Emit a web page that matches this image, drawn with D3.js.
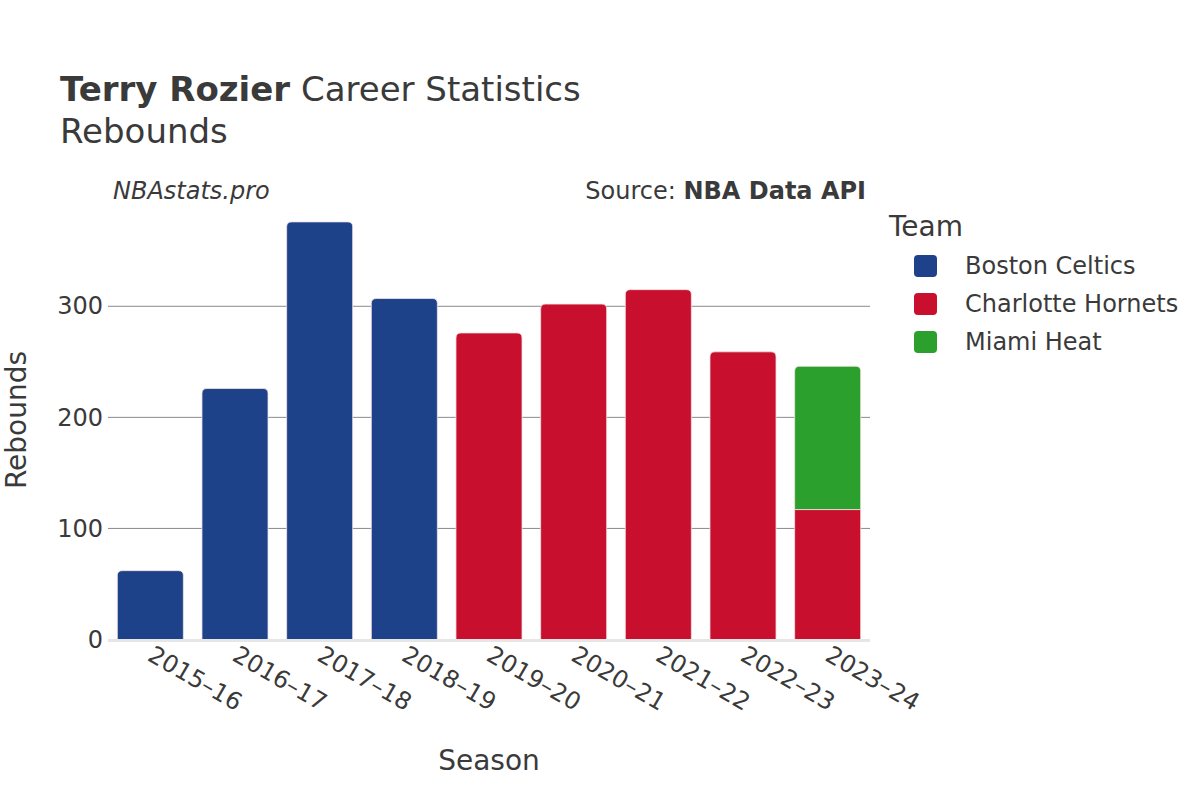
<!DOCTYPE html>
<html><head><meta charset="utf-8">
<script src="https://cdn.jsdelivr.net/npm/d3@7"></script>
<style>body{margin:0;background:#fff;} svg{display:block;font-family:"DejaVu Sans",sans-serif;}</style>
</head><body><svg id="c" width="1200" height="800"></svg>
<script>
const seasons = ["2015–16","2016–17","2017–18","2018–19","2019–20","2020–21","2021–22","2022–23","2023–24"];
const teams = ["Boston Celtics","Charlotte Hornets","Miami Heat"];
const teamColors = ["#1d428a","#c8102e","#2ca02c"];
const boston    = [62,226,376,307,0,0,0,0,0];
const charlotte = [0,0,0,0,276,302,315,259,117];
const miami     = [0,0,0,0,0,0,0,0,129];
const yTicks = [0,100,200,300];

const svg = d3.select("#c");
const m = {l:108, r:870, t:200, b:639.5};
const x = d3.scaleBand().domain(seasons).range([m.l, m.r]).paddingInner(0.22).paddingOuter(0.11);
const y = d3.scaleLinear().domain([0, 388.5]).range([m.b, 208]);
const color = d3.scaleOrdinal().domain(teams).range(teamColors);
const txt = "#3a3a3a";

// gridlines
svg.append("g").selectAll("line").data(yTicks.filter(d=>d>0)).join("line")
  .attr("x1", m.l).attr("x2", m.r).attr("y1", d=>y(d)).attr("y2", d=>y(d))
  .attr("stroke", "#8a8a8a").attr("stroke-width", 1);

// y axis
const yAxis = d3.axisLeft(y).tickValues(yTicks).tickSize(0).tickPadding(5);
const yg = svg.append("g").attr("transform", `translate(${m.l},0)`).call(yAxis);
yg.select(".domain").remove();
yg.selectAll("text").attr("font-size", 24).attr("fill", txt).attr("font-family","DejaVu Sans");

// stacked data
const rows = seasons.map((s,i)=>({season:s, "Boston Celtics":boston[i], "Charlotte Hornets":charlotte[i], "Miami Heat":miami[i]}));
const stack = d3.stack().keys(teams)(rows);
const tops = seasons.map((s,i)=>{ let t=-1; teams.forEach((k,j)=>{ if(rows[i][k]>0) t=j; }); return t; });

function barPath(x0, w, y0, y1, r) {
  r = Math.min(r, (y0-y1)/2, w/2);
  return `M${x0},${y0}V${y1+r}Q${x0},${y1} ${x0+r},${y1}H${x0+w-r}Q${x0+w},${y1} ${x0+w},${y1+r}V${y0}Z`;
}

const bars = svg.append("g");
stack.forEach((layer, j) => {
  layer.forEach((d, i) => {
    if (d[1]-d[0] <= 0) return;
    const x0 = x(seasons[i]), w = x.bandwidth();
    const yb = y(d[0]), yt = y(d[1]);
    const rr = tops[i] === j ? 5 : 0;
    bars.append("path").attr("d", barPath(x0, w, yb, yt, rr))
      .attr("fill", color(teams[j])).attr("stroke", "#f3e3e3").attr("stroke-width", 0.8);
  });
});

// zero line
svg.append("line").attr("x1", m.l).attr("x2", m.r).attr("y1", y(0)+1).attr("y2", y(0)+1)
  .attr("stroke", "#e6e6e6").attr("stroke-width", 3);

// x axis labels
const xAxis = d3.axisBottom(x).tickSize(0).tickPadding(0);
const xg = svg.append("g").attr("transform", `translate(0,${m.b})`).call(xAxis);
xg.select(".domain").remove();
xg.selectAll("text").attr("font-size", 24).attr("fill", txt).attr("font-family","DejaVu Sans")
  .attr("text-anchor","start").attr("dy", null).attr("y", 0)
  .attr("transform", "translate(-4,20) rotate(30)");

// titles
const title = svg.append("text").attr("x", 60).attr("y", 101).attr("font-size", 34).attr("fill", txt);
title.append("tspan").attr("font-weight","bold").text("Terry Rozier");
title.append("tspan").text(" Career Statistics");
svg.append("text").attr("x", 60).attr("y", 143).attr("font-size", 34).attr("fill", txt).text("Rebounds");

svg.append("text").attr("x", 113).attr("y", 199).attr("font-size", 24).attr("font-style","italic").attr("fill", txt).text("NBAstats.pro");
const src = svg.append("text").attr("x", 866).attr("y", 199).attr("font-size", 24).attr("text-anchor","end").attr("fill", txt);
src.append("tspan").text("Source: ");
src.append("tspan").attr("font-weight","bold").text("NBA Data API");

// axis titles
svg.append("text").attr("transform","translate(26,420) rotate(-90)").attr("text-anchor","middle")
  .attr("font-size", 28).attr("fill", txt).text("Rebounds");
svg.append("text").attr("x", 489).attr("y", 770).attr("text-anchor","middle")
  .attr("font-size", 28).attr("fill", txt).text("Season");

// legend
svg.append("text").attr("x", 889).attr("y", 236).attr("font-size", 28).attr("fill", txt).text("Team");
const lg = svg.append("g").selectAll("g").data(teams).join("g")
  .attr("transform", (d,i)=>`translate(914,${266+i*38})`);
lg.append("rect").attr("x",0).attr("y",-11).attr("width",23).attr("height",22).attr("rx",4)
  .attr("fill", d=>color(d));
lg.append("text").attr("x", 51).attr("y", 8).attr("font-size", 24).attr("fill", txt).text(d=>d);
</script></body></html>
